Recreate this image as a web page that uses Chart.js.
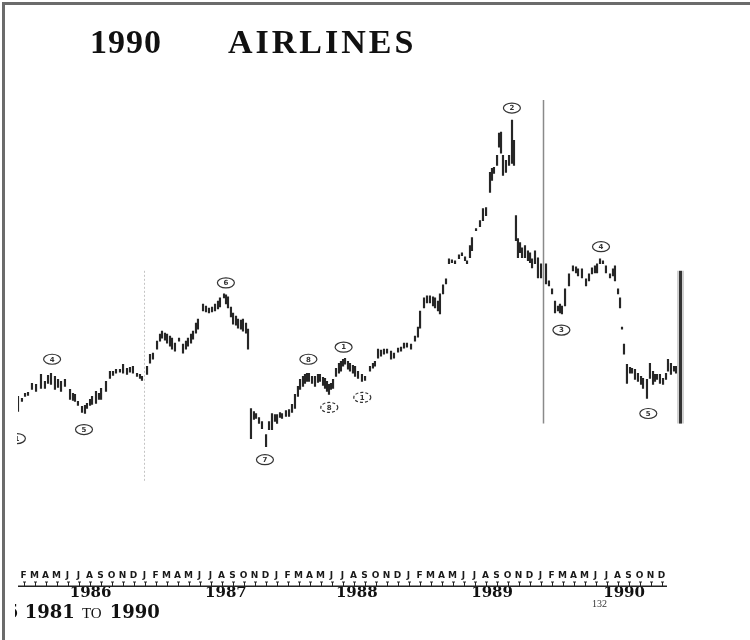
<!DOCTYPE html>
<html>
<head>
<meta charset="utf-8">
<title>1990 Airlines</title>
<script src="https://cdn.jsdelivr.net/npm/chart.js@4.4.0/dist/chart.umd.min.js"></script>
<style>
  html, body { margin: 0; padding: 0; background: #fff; }
  #page { position: relative; width: 750px; height: 640px; overflow: hidden; background: #fff; }
  #frame { position: absolute; left: 2px; top: 2px; right: -10px; bottom: -10px;
           border-left: 3px solid #6b6b6b; border-top: 3px solid #6b6b6b; }
  canvas { position: absolute; left: 0; top: 0; }
  .title { position: absolute; top: 25px; font: bold 34px "Liberation Serif", serif; line-height: 34px;
           color: #111; white-space: nowrap; }
  #footer { position: absolute; left: 15px; top: 601px; width: 200px; overflow: hidden; white-space: nowrap;
            color: #111; line-height: 20px; }
  #footer .big { font: bold 18px "DejaVu Serif", serif; }
  #footer .small { font: 15px "Liberation Serif", serif; margin-left: 3px; margin-right: 4px; }
  #pageno { position: absolute; left: 592px; top: 598px; font: 10px "Liberation Serif", serif; color: #333; }
</style>
</head>
<body>
<div id="page">
  <canvas id="chart" width="750" height="640"></canvas>
  <div id="frame"></div>
  <div class="title" style="left:90px;letter-spacing:1px">1990</div>
  <div class="title" style="left:228px;letter-spacing:3px">AIRLINES</div>
  <div id="footer"><span class="big" style="margin-left:-9px">5 1981</span> <span class="small">TO</span> <span class="big">1990</span></div>
  <div id="pageno">132</div>
</div>
<script>
// ── weekly bars, x in months from Jan 1986 (0), prices in chart units ──
// 1986 sheet
const dates86 = [1.00,1.36,1.64,1.91,2.27,2.64,3.09,3.45,3.73,4.00,4.36,4.64,4.91,5.27,5.73,6.00,6.18,6.45,6.82,7.09,
                 7.27,7.55,7.73,8.09,8.36,8.55,9.00,9.36,9.64,9.91,10.27,10.55,10.91,11.18,11.45,11.82,12.09,12.27];
const highs86 = [40,39.5,40.75,41,43.25,43,45.5,43.75,45.25,45.75,45,44.25,43.75,44.25,41.75,40.75,40.5,38.75,37.5,37.75,
                 38.25,39.25,40,41.25,40.75,42,43.75,46.25,46.25,46.75,46.75,48,47,47.25,47.5,45.75,45.5,45];
const lows86  = [36.25,38.75,40,40.25,41.75,41.25,42,42,43.25,43,41.75,42.25,41.25,42.5,39.25,39,38.75,37.75,36,35.75,
                 37,37.75,38,38.25,39.25,39.25,41.25,44.5,45.25,45.75,46,45.75,45.5,46,45.75,45,44.5,44];

// 1987 sheet
const dates87 = [12.73,13.00,13.27,13.64,13.91,14.09,14.36,14.55,14.82,15.00,15.27,15.64,16.00,16.27,16.45,16.73,16.91,
                 17.18,17.36,17.82,18.09,18.36,18.64,18.91,19.18,19.36,19.73,19.91,20.09,20.36,20.55,20.82,21.00,21.27,
                 21.45,21.73,21.91];
const highs87 = [47.5,50.5,50.75,53.75,55.5,56.25,55.75,55.5,55,54.5,53.25,54.5,53,53.75,54.5,55.5,56.25,
                 58.25,59.25,63,62.5,62,62.25,63,63.75,64.5,65.5,65.25,64.75,62.25,60.75,60,59.25,59,
                 59.25,58.25,56.75];
const lows87  = [45.5,48.25,49.25,51.75,53.75,54.5,54,53.25,52.5,51.75,51.25,53.75,50.75,51.75,52.5,53.25,54.25,
                 55.75,56.75,61.25,61,60.75,61,61.25,61.75,62.25,64.5,63,62,59.75,58,57.75,57,56.75,
                 56.25,55.75,51.75];

// 1988-89 sheet
const dates89 = [22.18,22.45,22.64,22.91,23.18,23.55,23.82,24.09,24.36,24.55,24.82,25.00,25.36,25.64,25.91,26.18,26.45,
                 26.64,26.91,27.09,27.27,27.45,27.73,28.00,28.27,28.45,28.73,28.91,29.09,29.27,29.45,29.64,29.91,
                 30.18,30.36,30.55,30.73,31.00,31.18,31.45,31.64,31.91,32.27,32.55,33.00,33.27,33.45,33.73,34.00,
                 34.27,34.55,34.91,35.18,35.55,35.82,36.09,36.36,36.73,37.09,37.36,37.55,37.91,38.18,38.45,38.73,
                 38.91,39.18,39.36,39.64,39.91,40.18,40.45,40.73,41.09,41.36,41.64,41.82,42.09,42.27,42.64,43.00,
                 43.27,43.55,43.91,44.09,44.27,44.55,44.73,44.91,45.09,45.36,45.64,45.91,46.09,46.27,46.45,46.64,
                 46.82,47.09,47.36,47.55,47.73,48.00,48.27,48.55];
const highs89 = [37,36.25,35.75,34.75,33.75,30.5,33.75,35.75,35.5,35.5,36,35.75,36.5,36.75,38,40.5,42.5,
                 44.25,45,45.5,45.75,45.75,45,45,45.5,45.5,44.75,44.5,43.75,43,43.25,44.25,47,
                 48.25,48.75,49.25,49.5,48.75,48.25,47.75,47.5,46.25,45.5,45,47.5,48.25,48.75,51.75,51.5,
                 51.75,51.75,51.25,50.75,52,52.25,53.25,53.25,53,55,57.25,61.25,64.5,65,65,64.75,
                 64.5,63.75,65.5,67.75,69.25,74.25,74,73.75,75.25,75.75,74.75,73.75,77.5,79.5,81.75,83.75,
                 86.75,87,95.75,96.75,97,100,105.5,105.75,100,98.75,100,108.75,103.75,85,79.25,78.25,
                 77,77.5,76.25,75.75,74.25,76.25,74.5,73];
const lows89  = [29.5,34.25,34.5,33.25,32,27.5,31.75,31.75,33.75,33.25,34.75,34.5,35,35,36,37,40,
                 41.75,42.5,43.25,43.75,43.75,43.25,42.5,43.5,43.75,42.75,42,41.25,40.5,41.75,42,45,
                 45.75,46.25,47.5,48,46.75,46.25,45.75,45,44.5,43.75,44,46.25,47,47.5,49.5,50,
                 50.5,50.75,49.25,49.5,51,51.25,52,52.25,51.75,53.75,54.75,57,62,63.25,63.25,62.5,
                 62,61.25,60.5,65.5,68,73,73.25,73,74.25,75,73.75,73,74.5,76.25,81.25,82.25,
                 83.75,85,90.75,93.75,95.5,97.5,102,100.5,95,95.75,97.5,98,97.5,78.75,74.5,75.75,
                 74.5,74.5,73.75,73.25,72,73,69.5,69.5];

// 1990 sheet
const dates90 = [49.00,49.27,49.55,49.82,50.09,50.27,50.45,50.73,51.09,51.45,51.73,51.91,52.27,52.64,52.91,53.18,
                 53.45,53.64,53.91,54.18,54.45,54.82,55.09,55.27,55.55,55.73,55.91,56.09,56.36,56.64,56.82,57.09,
                 57.36,57.64,57.82,58.18,58.45,58.73,58.91,59.09,59.36,59.64,59.91,60.09,60.36,60.64,60.82];
const highs90 = [73,68.75,66.75,63.75,62.5,63,62.5,66.75,70.5,72.5,72.25,71.75,71.75,69.25,70.5,72,
                 72.5,73,74.25,73.75,72.5,70.5,71.75,72.5,66.75,64.5,57.25,53,48,47.25,47,46.75,
                 45.75,45,44.5,44.25,48.25,46.25,45.5,45.5,45.5,44.5,45.75,49.25,48.25,47.5,47.5];
const lows90  = [68,67.5,65.5,60.75,61.25,60.75,60.5,62.5,67.5,71.25,70.75,70,69.5,67.5,68.75,70.5,
                 70.75,70.75,73,73,70.75,69.5,70,68.75,65.5,62,56.75,50.5,43.25,45.75,45.75,44.25,
                 43.75,43,42,39.5,44.5,43,43.75,44.25,43.25,43,44.25,46.25,45.5,46.25,45.75];

// ── axis labels ──
const monthLetters = ['J','F','M','A','M','J','J','A','S','O','N','D'];
const firstMonth = 1, lastMonth = 59;          // Feb 1986 .. Dec 1990
const years    = ['1986','1987','1988','1989','1990'];
const yearTick = [7.6, 19.9, 31.8, 44.1, 56.1];

// ── elliott wave counts (circled) ──
const waveText   = ['1','4','5','6','7','8','1','8','1','2','3','4','5'];
const waveX      = [0.9, 4.1, 7.0, 19.9, 23.45, 27.4, 30.6, 29.3, 32.3, 45.9, 50.4, 54.0, 58.3];
const waveY      = [29.5, 49.25, 31.75, 68.25, 24.25, 49.25, 52.25, 37.25, 39.75, 111.75, 56.5, 77.25, 35.75];
const waveDashed = [false,false,false,false,false,false,false,true,true,false,false,false,false];

// ── sheet splice lines ──
const cutX   = [12.45, 48.73, 61.18];
const cutTop = [71.25, 113.75, 71.25];
const cutBot = [18.75, 33.25, 33.25];

const dates = [...dates86, ...dates87, ...dates89, ...dates90];
const highs = [...highs86, ...highs87, ...highs89, ...highs90];
const lows  = [...lows86,  ...lows87,  ...lows89,  ...lows90];
const bars  = dates.map((d, i) => ({ x: d, y: [lows[i], highs[i]] }));

const scanMarks = {
  id: 'scanMarks',
  afterDatasetsDraw(chart) {
    const { ctx, chartArea, scales: { x, y } } = chart;
    ctx.save();
    // splice lines between pasted sheets
    cutX.forEach((m, i) => {
      const px = Math.round(x.getPixelForValue(m)) + 0.5;
      const y0 = y.getPixelForValue(cutTop[i]), y1 = y.getPixelForValue(cutBot[i]);
      if (i === 0) {
        ctx.strokeStyle = '#c4c4c4'; ctx.lineWidth = 1; ctx.setLineDash([2, 2]);
      } else if (i === 1) {
        ctx.strokeStyle = '#8a8a8a'; ctx.lineWidth = 1.5; ctx.setLineDash([]);
      } else {
        ctx.strokeStyle = '#d0d0d0'; ctx.lineWidth = 7; ctx.setLineDash([]);
        ctx.beginPath(); ctx.moveTo(px, y0); ctx.lineTo(px, y1); ctx.stroke();
        ctx.strokeStyle = '#333'; ctx.lineWidth = 3;
      }
      ctx.beginPath(); ctx.moveTo(px, y0); ctx.lineTo(px, y1); ctx.stroke();
    });
    // circled wave counts
    ctx.beginPath(); ctx.rect(chartArea.left - 1, 0, chart.width, chart.height); ctx.clip();
    ctx.strokeStyle = '#333'; ctx.fillStyle = '#333'; ctx.lineWidth = 1.2;
    ctx.font = 'bold 7px "DejaVu Sans", sans-serif';
    ctx.textAlign = 'center'; ctx.textBaseline = 'middle';
    waveText.forEach((t, i) => {
      const cx = x.getPixelForValue(waveX[i]), cy = y.getPixelForValue(waveY[i]);
      ctx.setLineDash(waveDashed[i] ? [3, 2] : []);
      ctx.beginPath(); ctx.ellipse(cx, cy, 8.5, 5, 0, 0, Math.PI * 2); ctx.stroke();
      ctx.fillText(t, cx, cy + 0.5);
    });
    ctx.restore();
  },
  afterDraw(chart) {
    // little stems under each month letter and the rule beneath them
    const { ctx, scales: { x } } = chart;
    const top = x.bottom - 1, base = x.bottom + 3;
    ctx.save();
    ctx.strokeStyle = '#222'; ctx.lineWidth = 1;
    for (let m = firstMonth; m <= lastMonth; m++) {
      const px = Math.round(x.getPixelForValue(m + 0.5)) + 0.5;
      ctx.beginPath();
      ctx.moveTo(px - 1.5, top); ctx.lineTo(px + 1.5, top);
      ctx.moveTo(px, top); ctx.lineTo(px, base);
      ctx.stroke();
    }
    ctx.lineWidth = 1.5;
    ctx.beginPath();
    ctx.moveTo(x.getPixelForValue(firstMonth), base + 0.25);
    ctx.lineTo(x.getPixelForValue(lastMonth + 1), base + 0.25);
    ctx.stroke();
    ctx.restore();
  }
};

new Chart(document.getElementById('chart'), {
  type: 'bar',
  data: {
    datasets: [{
      data: bars,
      backgroundColor: '#262626',
      barThickness: 1.5,
      minBarLength: 2,
      borderWidth: 0
    }]
  },
  options: {
    responsive: false,
    animation: false,
    layout: { padding: { left: 18, right: 66.5, top: 95, bottom: 37 } },
    plugins: { legend: { display: false }, tooltip: { enabled: false }, title: { display: false } },
    scales: {
      x: {
        type: 'linear', min: 1, max: 61.5, offset: false,
        grid: { display: false, drawTicks: false }, border: { display: false },
        afterBuildTicks: s => {
          const t = [];
          for (let m = firstMonth; m <= lastMonth; m++) t.push({ value: m + 0.5 });
          s.ticks = t;
        },
        ticks: {
          autoSkip: false, maxRotation: 0, padding: 2, color: '#1a1a1a',
          font: { family: 'DejaVu Sans', size: 9, weight: 'bold' },
          callback: v => monthLetters[Math.floor(v) % 12]
        }
      },
      x2: {
        type: 'linear', position: 'bottom', min: 1, max: 61.5, offset: false,
        grid: { display: false, drawTicks: false }, border: { display: false },
        afterBuildTicks: s => { s.ticks = yearTick.map(v => ({ value: v })); },
        ticks: {
          autoSkip: false, maxRotation: 0, padding: 1, color: '#111',
          font: { family: 'DejaVu Serif', size: 15, weight: 'bold' },
          callback: (v, i) => years[i]
        }
      },
      y: { display: false, min: -2.75, max: 115 }
    }
  },
  plugins: [scanMarks]
});
</script>
</body>
</html>
